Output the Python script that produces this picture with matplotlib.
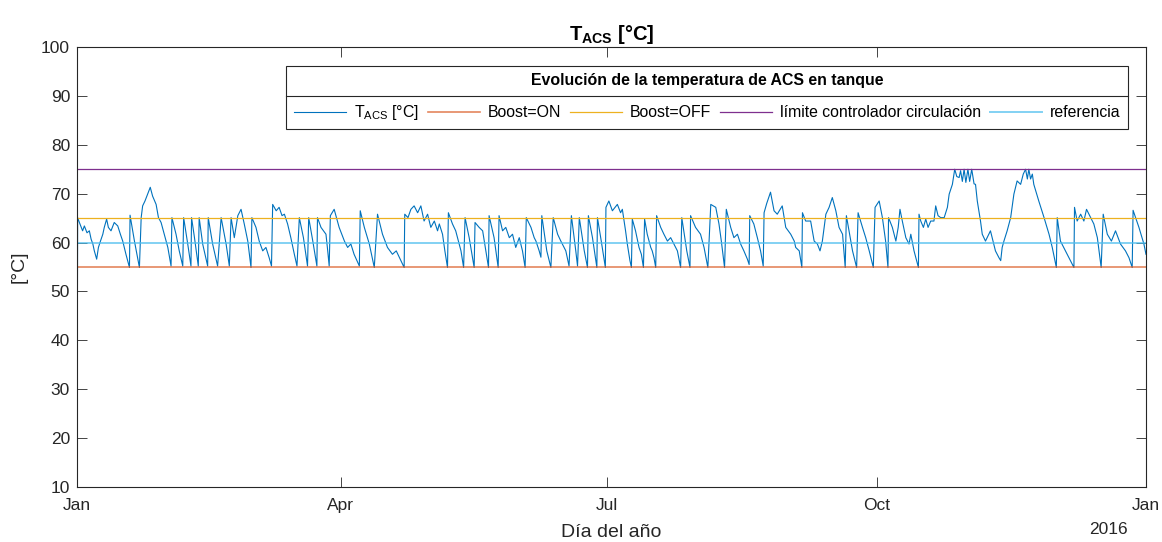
import numpy as np
import matplotlib.pyplot as plt
from matplotlib.lines import Line2D

plt.rcParams['font.family'] = ['Liberation Sans', 'DejaVu Sans']
plt.rcParams['mathtext.fontset'] = 'custom'
plt.rcParams['mathtext.rm'] = 'Liberation Sans'
plt.rcParams['mathtext.bf'] = 'Liberation Sans:bold'
plt.rcParams['mathtext.it'] = 'Liberation Sans:italic'

# Temperatura ACS en tanque (dia del año, °C)
t_ene_feb = [
    (0.0, 17.5), (0.2, 65.1), (0.8, 64.1), (1.9, 62.4), (2.5, 63.4), (3.4, 62.0),
    (4.2, 62.4), (4.8, 60.7), (5.4, 59.7), (5.9, 58.3), (6.7, 56.6), (7.3, 59.0),
    (8.0, 60.3), (8.8, 61.7), (9.3, 63.1), (10.1, 64.8), (10.7, 63.1), (11.6, 62.4),
    (12.7, 64.1), (13.9, 63.4), (14.8, 61.7), (15.6, 60.3), (16.7, 57.6), (17.9, 54.9),
    (18.1, 65.6), (19.6, 60.3), (21.3, 54.9), (21.9, 65.1), (22.4, 67.5), (23.2, 68.5),
    (24.1, 69.9), (25.0, 71.3), (25.8, 69.5), (27.0, 67.8), (27.8, 65.1), (28.7, 64.1),
    (29.8, 61.7), (31.0, 59.0), (32.1, 55.2), (32.4, 65.1), (33.8, 61.7), (34.9, 58.3),
    (36.1, 55.2), (36.4, 65.1), (37.8, 59.7), (38.9, 55.2), (39.1, 65.1), (40.1, 61.0),
    (41.4, 55.2), (41.7, 65.1), (42.9, 59.7), (44.6, 55.2), (44.8, 65.1), (46.3, 59.7),
    (48.0, 55.2), (49.2, 65.1), (50.9, 59.7), (52.0, 55.2), (52.6, 65.1), (53.7, 61.0),
    (54.9, 65.5), (56.0, 66.8),
]
t_mar_abr = [
    (57.1, 63.8), (58.3, 60.3), (59.4, 54.9), (59.7, 65.1), (61.1, 63.1), (62.2, 60.3),
    (63.4, 58.3), (64.5, 59.0), (65.6, 56.9), (66.4, 55.2), (66.8, 67.8), (68.0, 66.5),
    (69.0, 67.2), (70.0, 65.5), (70.8, 65.8), (71.9, 63.8), (73.0, 61.0), (74.2, 57.6),
    (75.1, 55.2), (75.9, 65.1), (77.3, 61.0), (78.7, 55.2), (79.1, 65.1), (80.5, 60.3),
    (81.9, 55.2), (82.1, 65.1), (83.3, 63.1), (85.0, 61.7), (85.6, 58.3), (86.1, 55.2),
    (86.5, 65.5), (87.8, 66.8), (89.5, 63.1), (91.3, 60.3), (92.4, 59.0), (93.5, 59.7),
    (94.6, 57.6), (96.4, 55.2), (96.7, 66.5), (98.1, 63.1), (99.8, 59.7), (101.5, 54.9),
    (102.6, 65.8), (104.3, 61.7), (106.0, 59.0), (107.7, 57.6), (109.0, 58.3), (110.6, 56.3),
    (111.7, 54.9), (111.9, 65.8), (113.0, 65.1), (114.0, 66.8), (115.1, 67.5), (116.3, 66.1),
    (117.4, 67.5),
]
t_may_jun = [
    (118.5, 64.4), (119.7, 65.8), (120.8, 63.1), (122.0, 64.4), (123.1, 62.4), (123.7, 63.8),
    (124.8, 61.7), (125.6, 58.3), (126.5, 54.9), (126.8, 66.1), (128.2, 63.8), (129.3, 62.4),
    (130.5, 59.7), (131.1, 58.3), (132.0, 54.9), (132.5, 65.1), (133.9, 61.0), (135.6, 54.9),
    (135.9, 64.1), (137.3, 63.1), (138.5, 62.4), (139.6, 58.3), (140.5, 54.9), (140.7, 65.5),
    (142.4, 61.0), (143.8, 54.9), (144.1, 65.5), (145.3, 62.4), (146.4, 63.1), (147.6, 61.0),
    (148.7, 61.7), (149.8, 59.0), (151.0, 61.0), (152.1, 58.3), (153.0, 54.9), (153.4, 65.1),
    (155.0, 63.1), (156.1, 61.0), (156.7, 60.3), (157.8, 58.3), (158.4, 57.0), (158.7, 65.5),
    (160.4, 58.3), (161.8, 54.9), (162.6, 65.1), (164.1, 61.7), (165.2, 60.3), (166.9, 58.3),
    (168.0, 55.2), (168.8, 65.5), (170.3, 58.3), (170.9, 55.2), (171.5, 65.1), (173.2, 58.3),
    (174.3, 54.9), (174.6, 65.5), (176.0, 61.0), (177.5, 54.9), (177.7, 65.1), (179.0, 60.3),
    (180.4, 54.9),
]
t_jul_ago = [
    (180.6, 67.2), (181.6, 68.5), (182.8, 66.5), (184.5, 67.8), (185.6, 66.1), (186.2, 66.8),
    (186.8, 64.4), (187.3, 62.4), (187.9, 59.7), (188.8, 56.3), (189.3, 54.9), (189.6, 64.8),
    (190.7, 62.4), (191.9, 59.0), (192.7, 57.6), (193.4, 54.9), (193.8, 64.8), (194.7, 61.7),
    (195.9, 59.0), (196.4, 58.3), (197.0, 56.9), (197.6, 54.9), (197.9, 65.5), (199.3, 63.1),
    (200.4, 61.7), (201.6, 60.3), (202.7, 61.0), (203.8, 59.7), (205.0, 58.3), (206.1, 54.9),
    (206.5, 65.1), (208.2, 58.3), (209.3, 54.9), (209.5, 65.5), (211.2, 63.1), (212.9, 61.7),
    (214.1, 59.0), (215.4, 54.9), (216.4, 67.8), (218.1, 67.2), (219.2, 63.8), (220.0, 60.3),
    (221.1, 54.9), (221.7, 66.8), (223.2, 63.1), (224.3, 61.0), (225.5, 61.7), (226.6, 59.7),
    (227.7, 58.3), (228.9, 56.6), (229.5, 55.5), (229.7, 65.5), (231.1, 63.8), (232.3, 61.0),
    (233.4, 58.3), (234.3, 55.2), (234.6, 66.1), (235.5, 68.0), (236.8, 70.3), (238.0, 66.5),
    (239.1, 65.8), (240.8, 67.5),
]
t_sep_oct = [
    (242.0, 63.1), (243.7, 61.7), (244.9, 60.3), (245.4, 59.0), (246.6, 58.3), (247.5, 54.9),
    (247.7, 66.1), (248.8, 64.4), (250.5, 64.4), (251.7, 60.3), (252.8, 59.7), (253.7, 58.3),
    (254.5, 60.3), (255.1, 63.1), (255.7, 65.8), (256.8, 67.2), (257.9, 69.2), (259.1, 66.5),
    (260.2, 63.1), (261.4, 61.7), (262.3, 54.9), (262.7, 65.5), (263.6, 62.4), (264.8, 58.3),
    (266.2, 54.9), (266.7, 66.1), (268.2, 63.1), (269.3, 61.0), (270.5, 58.3), (271.9, 54.9),
    (272.5, 67.2), (273.9, 68.5), (275.0, 65.1), (276.1, 60.3), (276.9, 54.9), (277.1, 65.1),
    (278.4, 63.1), (279.6, 60.3), (280.4, 63.1), (281.0, 66.8), (281.8, 64.4), (283.0, 61.0),
    (284.1, 59.7), (284.7, 61.7), (285.8, 58.3), (287.3, 54.9), (287.5, 65.8), (288.1, 64.4),
    (289.0, 63.1), (289.8, 64.8), (290.6, 63.1), (291.5, 64.4), (292.6, 64.4), (293.2, 67.5),
    (294.0, 65.5), (294.9, 65.1), (296.1, 65.1), (297.2, 67.2), (297.8, 69.9), (298.9, 71.9),
    (299.7, 75.0), (300.4, 73.5), (301.2, 73.3),
]
t_nov_dic = [
    (301.7, 74.7), (302.3, 72.5), (302.9, 75.0), (303.5, 72.3), (304.2, 75.0), (304.8, 72.5),
    (305.5, 75.0), (306.3, 72.0), (306.8, 71.9), (307.4, 68.5), (308.5, 64.4), (309.1, 61.7),
    (310.2, 60.3), (311.9, 62.4), (313.6, 58.3), (314.8, 56.9), (315.4, 56.3), (315.9, 59.0),
    (316.5, 60.3), (317.6, 62.4), (318.8, 65.1), (319.9, 69.9), (321.0, 72.6), (322.2, 71.9),
    (323.1, 74.0), (323.9, 75.0), (324.5, 73.0), (325.0, 75.0), (325.6, 73.0), (326.2, 74.0),
    (326.7, 71.9), (328.4, 68.5), (330.2, 65.1), (331.9, 61.7), (333.0, 59.0), (334.4, 54.9),
    (334.7, 65.1), (335.8, 60.3), (337.5, 58.3), (338.7, 56.9), (340.4, 54.9), (340.6, 67.2),
    (341.5, 64.4), (342.7, 65.8), (343.8, 64.4), (344.7, 66.8), (346.1, 65.1), (347.2, 63.8),
    (348.4, 61.0), (349.7, 54.9), (350.4, 65.8), (351.8, 61.7), (353.2, 60.3), (354.6, 62.4),
    (356.3, 59.7), (358.0, 58.3), (359.2, 56.9), (360.3, 54.9), (360.6, 66.6), (362.6, 63.1),
    (364.3, 59.7), (365.0, 57.6),
]

boost_on = 55
boost_off = 65
limite_circ = 75
referencia = 60

mes_ticks = [0, 90, 181, 273, 365]
mes_labels = ['Jan', 'Apr', 'Jul', 'Oct', 'Jan']

serie = np.array(t_ene_feb + t_mar_abr + t_may_jun + t_jul_ago + t_sep_oct + t_nov_dic)
dia, t_acs = serie[:, 0], serie[:, 1]

gris = '#262626'
fig = plt.figure(figsize=(11.62, 5.42), dpi=100)
ax = fig.add_axes([0.0663, 0.1015, 0.9199, 0.8118])

ax.plot(dia, t_acs, color='#0072BD', lw=0.8, label=r'T$_{\mathrm{ACS}}$ [°C]')
ax.axhline(boost_on, color='#D95319', lw=1.2, alpha=0.7, label='Boost=ON')
ax.axhline(boost_off, color='#EDB120', lw=0.9, label='Boost=OFF')
ax.axhline(limite_circ, color='#7E2F8E', lw=0.9, label='límite controlador circulación')
ax.axhline(referencia, color='#4DBEEE', lw=1.4, alpha=0.7, label='referencia')

ax.set_xlim(0, 365)
ax.set_ylim(10, 100)
ax.set_yticks(np.arange(10, 101, 10))
ax.set_xticks(mes_ticks)
ax.set_xticklabels(mes_labels)
ax.tick_params(direction='in', length=7, width=0.6, top=True, right=True,
               colors=gris, labelsize=12.5)
ax.tick_params(axis='x', pad=8)
ax.tick_params(axis='y', pad=5)
for s in ax.spines.values():
    s.set_color(gris)
    s.set_linewidth(0.8)

ax.set_xlabel('Día del año', fontsize=14, color=gris, labelpad=8)
ax.set_ylabel('[°C]', fontsize=14, color=gris, labelpad=10)
ax.set_title(r'T$_{\mathbf{ACS}}$ [°C]', fontsize=14.5, fontweight='bold', pad=5)
fig.text(1128 / 1162, 1 - 529 / 542, '2016', fontsize=12.5, color=gris, ha='right', va='center')

leg_fs = 11.4
leg = ax.legend(loc='upper right', bbox_to_anchor=(0.983, 0.957), borderaxespad=0,
                ncol=5, fontsize=leg_fs, handlelength=3.3, handletextpad=0.5,
                columnspacing=0.55, fancybox=False, edgecolor=gris, framealpha=1,
                borderpad=0.45, labelspacing=0.95,
                title='Evolución de la temperatura de ACS en tanque',
                title_fontproperties={'weight': 'bold', 'size': leg_fs})
leg.get_frame().set_linewidth(0.8)

# linea separadora bajo el titulo de la leyenda
fig.canvas.draw()
r = fig.canvas.get_renderer()
lb = leg.get_window_extent(r)
tb = leg.get_title().get_window_extent(r)
ysep = tb.y0 - 0.95 * leg_fs * fig.dpi / 72 / 2
inv = fig.transFigure.inverted()
(x0, y0), (x1, _) = inv.transform([(lb.x0, ysep), (lb.x1, ysep)])
fig.add_artist(Line2D([x0, x1], [y0, y0], transform=fig.transFigure, color=gris, lw=0.8))

fig.savefig('out.png', dpi=100)
